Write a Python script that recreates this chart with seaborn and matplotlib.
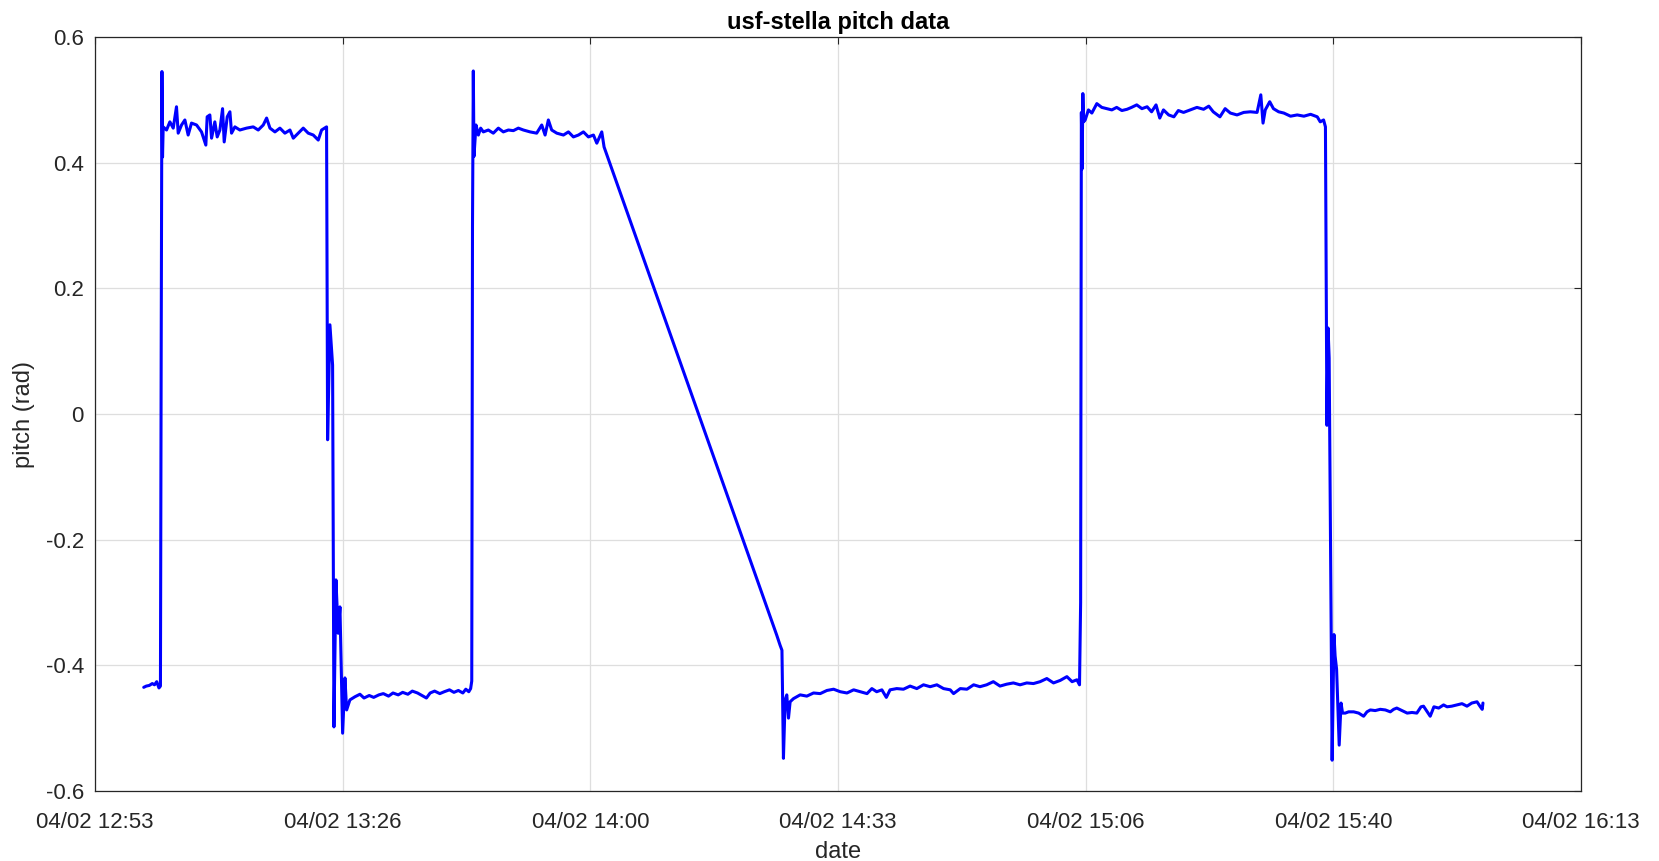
import numpy as np
import pandas as pd
import matplotlib
matplotlib.use("Agg")
import matplotlib.pyplot as plt
import matplotlib.dates as mdates
import seaborn as sns

# minutes after 12:53:20 and pitch (rad)
surface1_min = [6.55, 6.9, 7.3, 7.7, 8.0, 8.3, 8.6, 8.8]
surface1_pitch = [-0.435, -0.433, -0.432, -0.429, -0.431, -0.426, -0.436, -0.433]

climb1_min = [8.9, 9.0, 9.08, 9.17, 9.62, 10.07, 10.52, 10.96, 11.19, 11.64, 12.09, 12.53,
              12.98, 13.66, 14.33, 14.91, 15.09, 15.45, 15.68, 16.12, 16.44, 16.80, 17.16,
              17.38, 17.79, 18.15, 18.37, 18.82, 19.49, 20.39, 21.29, 21.96, 22.64, 23.09,
              23.54, 24.21, 24.88, 25.55, 26.23, 26.68, 27.35, 28.02, 28.69, 29.37, 30.04,
              30.49, 31.16]
climb1_pitch = [0.10, 0.545, 0.409, 0.457, 0.452, 0.465, 0.455, 0.489, 0.447, 0.460, 0.468,
                0.444, 0.463, 0.460, 0.449, 0.428, 0.473, 0.476, 0.439, 0.465, 0.441, 0.452,
                0.486, 0.433, 0.473, 0.481, 0.447, 0.457, 0.452, 0.455, 0.457, 0.452, 0.460,
                0.471, 0.455, 0.449, 0.455, 0.447, 0.452, 0.439, 0.447, 0.455, 0.447, 0.444,
                0.436, 0.452, 0.457]

dive1_min = [31.30, 31.61, 31.97, 32.15, 32.42, 32.73, 32.96, 33.32, 33.63, 33.86, 34.30,
             34.98, 35.65, 36.20, 36.90, 37.50, 38.20, 38.80, 39.50, 40.10, 40.80, 41.40,
             42.10, 42.70, 43.40, 44.00, 44.60, 45.10, 45.70, 46.40, 47.00, 47.70, 48.30,
             48.90, 49.50, 49.90, 50.30, 50.55, 50.70]
dive1_pitch = [-0.041, 0.142, 0.078, -0.498, -0.264, -0.349, -0.307, -0.508, -0.420, -0.471,
               -0.455, -0.450, -0.446, -0.452, -0.448, -0.451, -0.447, -0.445, -0.449, -0.444,
               -0.447, -0.443, -0.446, -0.441, -0.444, -0.448, -0.452, -0.444, -0.441, -0.445,
               -0.442, -0.439, -0.443, -0.440, -0.444, -0.438, -0.442, -0.437, -0.425]

climb2_min = [50.80, 50.91, 51.00, 51.27, 51.59, 51.90, 52.26, 52.93, 53.60, 54.28, 54.95,
              55.63, 56.30, 56.97, 57.65, 58.55, 59.44, 60.12, 60.57, 61.01, 61.46, 62.14,
              63.04, 63.71, 64.38, 65.06, 65.73, 66.40, 67.08, 67.53, 68.20, 68.51]
climb2_pitch = [0.30, 0.546, 0.410, 0.460, 0.444, 0.455, 0.449, 0.452, 0.447, 0.455, 0.449,
                0.452, 0.451, 0.455, 0.452, 0.449, 0.447, 0.460, 0.444, 0.468, 0.452, 0.447,
                0.444, 0.449, 0.441, 0.444, 0.449, 0.441, 0.444, 0.431, 0.449, 0.425]

dive2_min = [91.75, 92.20, 92.45, 92.65, 92.88, 93.10, 93.33, 93.55, 94.0, 94.9, 95.8, 96.7,
             97.6, 98.5, 99.4, 100.3, 101.2, 102.1, 103.0, 103.9, 104.55, 105.2, 105.9,
             106.5, 107.0, 107.9, 108.8, 109.7, 110.6, 111.5, 112.4, 113.3, 114.2, 115.1,
             115.55, 116.45, 117.35, 118.25, 119.1, 120.0, 120.9, 121.8, 122.7, 123.6, 124.5,
             125.4, 126.3, 127.2, 128.1, 129.0, 129.9, 130.8, 131.5, 132.15, 132.5]
dive2_pitch = [-0.352, -0.368, -0.376, -0.548, -0.455, -0.447, -0.484, -0.458, -0.453, -0.447,
               -0.449, -0.444, -0.445, -0.440, -0.438, -0.442, -0.444, -0.439, -0.442, -0.445,
               -0.437, -0.442, -0.439, -0.451, -0.439, -0.437, -0.438, -0.433, -0.437, -0.431,
               -0.434, -0.431, -0.437, -0.439, -0.445, -0.437, -0.438, -0.431, -0.434, -0.431,
               -0.426, -0.433, -0.430, -0.428, -0.431, -0.428, -0.429, -0.426, -0.421, -0.428,
               -0.424, -0.418, -0.426, -0.423, -0.431]

climb3_min = [132.65, 132.75, 132.85, 132.95, 133.05, 133.26, 133.7, 134.16, 134.83, 135.5,
              136.2, 136.85, 137.5, 138.2, 138.9, 139.5, 140.2, 140.9, 141.6, 142.2, 142.8,
              143.3, 143.8, 144.5, 145.2, 145.8, 146.5, 147.4, 148.3, 149.2, 149.9, 150.5,
              151.4, 152.1, 152.8, 153.7, 154.6, 155.5, 156.4, 156.9, 157.2, 157.5, 158.1,
              158.6, 159.3, 160.0, 160.9, 161.8, 162.7, 163.6, 164.5, 164.9, 165.35, 165.6]
climb3_pitch = [-0.30, 0.480, 0.390, 0.510, 0.465, 0.468, 0.484, 0.479, 0.494, 0.488, 0.486,
                0.484, 0.488, 0.483, 0.485, 0.488, 0.492, 0.486, 0.489, 0.481, 0.492, 0.471,
                0.484, 0.476, 0.473, 0.483, 0.480, 0.484, 0.488, 0.485, 0.490, 0.481, 0.473,
                0.486, 0.479, 0.476, 0.480, 0.481, 0.480, 0.508, 0.463, 0.484, 0.497, 0.486,
                0.481, 0.479, 0.474, 0.476, 0.474, 0.477, 0.473, 0.465, 0.468, 0.457]

dive3_min = [165.8, 165.95, 166.1, 166.5, 166.75, 166.9, 167.1, 167.45, 167.7, 167.9, 168.27,
             168.72, 169.4, 170.07, 170.74, 171.19, 171.64, 172.3, 172.98, 173.66, 174.33,
             174.78, 175.2, 175.9, 176.6, 177.25, 177.9, 178.46, 178.8, 179.3, 179.7, 180.2,
             180.84, 181.5, 181.97, 182.6, 183.3, 183.98, 184.65, 185.3, 186.0, 186.45, 186.7,
             186.8]
dive3_pitch = [-0.018, 0.137, 0.089, -0.551, -0.351, -0.385, -0.406, -0.527, -0.460, -0.476,
               -0.476, -0.474, -0.474, -0.476, -0.481, -0.474, -0.471, -0.472, -0.470, -0.471,
               -0.474, -0.470, -0.468, -0.472, -0.476, -0.475, -0.476, -0.466, -0.465, -0.474,
               -0.481, -0.466, -0.468, -0.463, -0.466, -0.465, -0.463, -0.461, -0.465, -0.460,
               -0.458, -0.466, -0.470, -0.460]

start = pd.Timestamp("2019-04-02 12:53:20")
minutes = np.concatenate([surface1_min, climb1_min, dive1_min, climb2_min,
                          dive2_min, climb3_min, dive3_min])
pitch = np.concatenate([surface1_pitch, climb1_pitch, dive1_pitch, climb2_pitch,
                        dive2_pitch, climb3_pitch, dive3_pitch])
df = pd.DataFrame({"date": start + pd.to_timedelta(minutes, unit="m"), "pitch": pitch})

sns.set_style("white")
plt.rcParams["font.family"] = ["Liberation Sans", "DejaVu Sans"]
plt.rcParams["axes.unicode_minus"] = False

fig = plt.figure(figsize=(16.59, 8.61), dpi=100)
ax = fig.add_axes([0.0573, 0.0813, 0.8957, 0.8757])
sns.lineplot(data=df, x="date", y="pitch", color="#0000ff", linewidth=2.2,
             estimator=None, ax=ax)

ticks = [start + pd.Timedelta(seconds=2000 * k) for k in range(7)]
ax.set_xlim(ticks[0], ticks[-1])
ax.set_xticks(ticks)
ax.xaxis.set_major_formatter(mdates.DateFormatter("%m/%d %H:%M"))
ax.set_ylim(-0.6, 0.6)
ax.set_yticks([-0.6, -0.4, -0.2, 0, 0.2, 0.4, 0.6])
ax.set_yticklabels(["-0.6", "-0.4", "-0.2", "0", "0.2", "0.4", "0.6"])

ax.grid(True, color="#dedede", linewidth=0.9)
ax.tick_params(direction="in", length=5, width=0.8, top=True, right=True,
               labelsize=16, colors="#262626")
ax.tick_params(axis="x", pad=15)
ax.tick_params(axis="y", pad=8)
for s in ax.spines.values():
    s.set_color("#262626")
    s.set_linewidth(0.9)

ax.set_xlabel("date", fontsize=17, color="#262626", labelpad=6)
ax.set_ylabel("pitch (rad)", fontsize=17, color="#262626", labelpad=8)
ax.set_title("usf-stella pitch data", fontsize=17, fontweight="bold", color="black", pad=6)

fig.savefig("out.png", dpi=100)
